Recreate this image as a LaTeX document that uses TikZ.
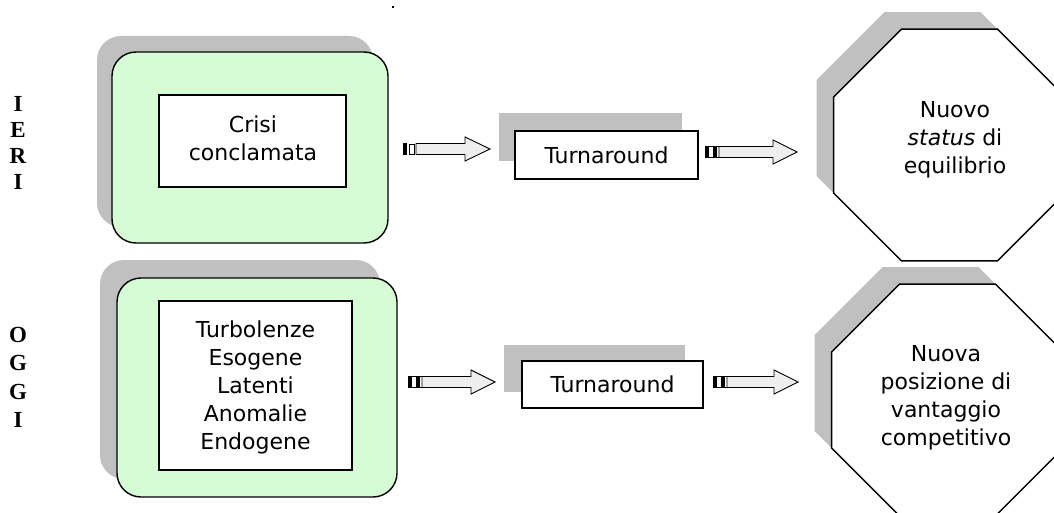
\documentclass[tikz,border=0pt]{standalone}
\usepackage{fontspec}
\setmainfont{DejaVu Sans}
\newfontfamily\sideletters{Liberation Serif}
\usetikzlibrary{shapes.geometric}

\definecolor{panelgreen}{RGB}{214,252,214}
\definecolor{shadowgray}{RGB}{192,192,192}
\definecolor{shaftgray}{RGB}{238,238,238}

% block arrow with a single black bar and a hollow slot at its tail
\newcommand\barslotarrow[3]{%
  \fill (#1,#2-6) rectangle (#1+4,#2+6);
  \draw[line width=0.9pt, fill=white] (#1+6,#2-5) rectangle (#1+11,#2+5);
  \draw[arrowbody] (#1+13,#2-5.5) -- (#3-25,#2-5.5) -- (#3-25,#2-12) -- (#3,#2)
    -- (#3-25,#2+12) -- (#3-25,#2+5.5) -- (#1+13,#2+5.5) -- cycle;
}
% block arrow with a black-white-black banded tail
\newcommand\bandedarrow[3]{%
  \draw[line width=0.9pt, fill=white] (#1,#2-5.5) rectangle (#1+14,#2+5.5);
  \fill (#1,#2-5.5) rectangle (#1+4,#2+5.5);
  \fill (#1+8,#2-5.5) rectangle (#1+12,#2+5.5);
  \draw[arrowbody] (#1+14,#2-5.5) -- (#3-24,#2-5.5) -- (#3-24,#2-12) -- (#3,#2)
    -- (#3-24,#2+12) -- (#3-24,#2+5.5) -- (#1+14,#2+5.5) -- cycle;
}

\begin{document}
\begin{tikzpicture}[x=1pt, y=-1pt,
  every node/.style={font=\fontsize{22}{28}\selectfont, inner sep=0pt},
  shadowbox/.style={fill=shadowgray, draw=none},
  panel/.style={draw=black, line width=1.4pt, fill=panelgreen, rounded corners=24pt},
  innerbox/.style={draw=black, line width=1.3pt, fill=white},
  stagebox/.style={draw=black, line width=1.3pt, fill=white},
  octa/.style={regular polygon, regular polygon sides=8, minimum size=251pt},
  arrowbody/.style={draw=black, line width=0.9pt, fill=shaftgray},
  sidelabel/.style={font=\sideletters\bfseries\fontsize{23}{26}\selectfont, align=center},
]
\useasboundingbox (0,0) rectangle (1054,513);
\clip (0,0) rectangle (1054,513);

% stray dot near the top edge
\fill (392.4,6.4) rectangle (394,8);

% ---------------- row "IERI" ----------------
\node[sidelabel] (ieri) at (18,142.5) {I\\E\\R\\I};

\node[shadowbox, rounded corners=24pt, minimum width=276pt, minimum height=191pt] (p1s) at (235,131.5) {};
\node[panel, minimum width=276pt, minimum height=191pt] (p1) at (250,147.5) {};
\node[innerbox, minimum width=187pt, minimum height=92pt] (c1) at (252.5,141) {};
\node[align=center] (c1t) at (253,138) {Crisi\\conclamata};

\node[shadowbox, minimum width=183pt, minimum height=48pt] (t1s) at (590.5,137.5) {};
\node[stagebox, minimum width=183pt, minimum height=48pt] (t1) at (606.5,155) {Turnaround};

\node[octa, shadowbox] (o1s) at (932.5,128) {};
\node[octa, draw=black, line width=1.4pt, fill=white] (o1) at (949.5,145) {};
\node[align=center] (o1t) at (955,140) {Nuovo\\\textit{status} di\\equilibrio};

\barslotarrow{403}{149}{490}
\bandedarrow{705}{152}{797}

% ---------------- row "OGGI" ----------------
\node[sidelabel, font=\sideletters\bfseries\fontsize{23}{28.5}\selectfont] (oggi) at (18,377.5) {O\\G\\G\\I};

\node[shadowbox, rounded corners=24pt, minimum width=280pt, minimum height=219pt] (p2s) at (240,369.5) {};
\node[panel, minimum width=280pt, minimum height=219pt] (p2) at (257,387.5) {};
\node[innerbox, minimum width=193pt, minimum height=169pt] (c2) at (255.5,385.5) {};
\node[align=center] (c2t) at (255.5,387) {Turbolenze\\Esogene\\Latenti\\Anomalie\\Endogene};

\node[shadowbox, minimum width=181pt, minimum height=47pt] (t2s) at (594.5,368) {};
\node[stagebox, minimum width=181pt, minimum height=47pt] (t2) at (612.5,384.5) {Turnaround};

\node[octa, shadowbox] (o2s) at (930.5,383) {};
\node[octa, draw=black, line width=1.4pt, fill=white] (o2) at (947.5,400) {};
\node[align=center] (o2t) at (946,398) {Nuova\\posizione di\\vantaggio\\competitivo};

\bandedarrow{408}{382}{495}
\bandedarrow{713}{382}{798}
\end{tikzpicture}
\end{document}
